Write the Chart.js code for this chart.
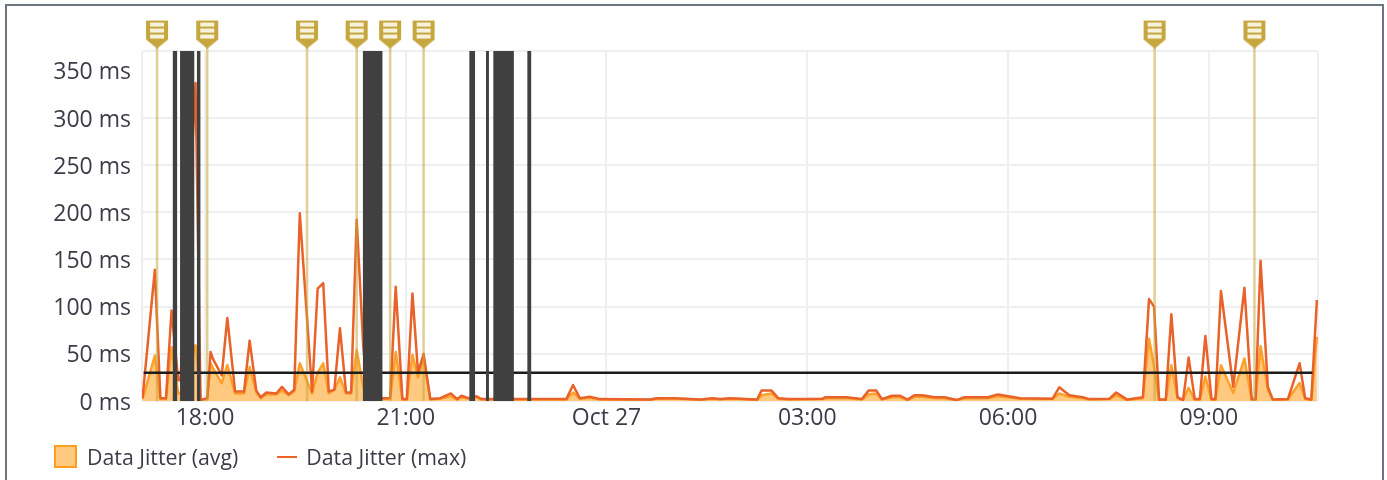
<!DOCTYPE html>
<html>
<head>
<meta charset="utf-8">
<script src="https://cdn.jsdelivr.net/npm/chart.js@4"></script>
<style>
  body { margin: 0; background: #fff; font-family: "Open Sans", sans-serif; overflow: hidden; }
  #frame { position: absolute; left: 5px; top: 4px; width: 1379px; height: 500px; border: 2px solid #6b7580; box-sizing: border-box; }
  #jitter { position: absolute; left: 0; top: 0; filter: blur(0.5px); }
  #legend { position: absolute; left: 54px; top: 445px; color: #3c3c48; line-height: 23px; white-space: nowrap; filter: blur(0.4px); }
  #legend span { display: inline-block; vertical-align: top; font-size: 21.3px; }
  #legend .box { width: 23px; height: 23px; box-sizing: border-box; background: #ffc97f; border: 2px solid #ff9d1e; margin-right: 10px; }
  #legend .dash { width: 20px; height: 2px; background: #f0602a; margin: 11px 9px 0 39px; }
</style>
</head>
<body>
<div id="frame"></div>
<canvas id="jitter" width="1387" height="480"></canvas>
<div id="legend"></div>
<script>
// everything on x is minutes after Oct 26 00:00
const xTickValues = [1080, 1260, 1440, 1620, 1800, 1980];
const xTickLabels = ["18:00", "21:00", "Oct 27", "03:00", "06:00", "09:00"];
const yTickValues = [0, 50, 100, 150, 200, 250, 300, 350];
const yTickLabels = ["0 ms", "50 ms", "100 ms", "150 ms", "200 ms", "250 ms", "300 ms", "350 ms"];
const xMin = 1023.5;
const xMax = 2078;
const yMax = 371;

const jitterTimes = [1024, 1035, 1040, 1045, 1050, 1056, 1058, 1071.5, 1076, 1082, 1085, 1087, 1095, 1100, 1107, 1115, 1120, 1126, 1130, 1135,
  1144, 1149, 1155, 1160, 1165, 1176, 1181, 1186, 1191, 1196, 1201, 1206.5, 1211, 1216, 1222, 1226, 1239, 1246, 1251, 1257,
  1261, 1266, 1271, 1276, 1282, 1291, 1300.5, 1306, 1310, 1316, 1323.5, 1328, 1404, 1410, 1416, 1425, 1434, 1479, 1485, 1500,
  1511, 1524, 1535, 1542, 1551, 1560, 1575, 1579, 1588, 1594, 1603, 1634, 1636, 1655, 1669, 1675, 1682, 1687, 1696, 1703,
  1710, 1716, 1723, 1734, 1743, 1754, 1761, 1782, 1791, 1811, 1840, 1846, 1855, 1867, 1873, 1891, 1897, 1907, 1921, 1926.5,
  1931, 1935.5, 1941.5, 1946.5, 1952, 1957, 1962, 1967.5, 1972, 1977, 1982.5, 1986, 1991, 2002, 2012, 2018.5, 2022, 2026.5, 2033, 2037.5,
  2051, 2061.5, 2066.5, 2072, 2077];
const jitterMax = [3, 139, 3, 3, 96, 22, 22, 337, 1, 3, 52, 45, 27, 88, 10, 10, 64, 11, 4, 9,
  8, 15, 7, 12, 199, 10, 119, 125, 10, 12, 77, 9, 9, 192, 56, 10, 3, 3, 121, 2,
  2, 114, 30, 50, 2, 3, 8, 2, 5.6, 3, 5, 2, 2, 17, 3, 4.5, 2, 1.5, 3, 3,
  2.5, 1.5, 3, 2, 3, 2.5, 1.5, 11, 11, 3, 2, 2.5, 4, 4, 2, 11, 11, 2, 5.6, 5.6,
  1.5, 6, 6, 4, 4, 1, 4, 4, 7, 3, 2.5, 14.5, 6, 4, 2, 2.5, 9, 1.5, 4, 108,
  100, 1.5, 1.5, 92, 4, 1, 46, 2, 2, 69, 2, 2, 116.5, 15, 120, 2, 2, 148.6, 15, 1.5,
  2, 40, 3, 1.5, 107];
const jitterAvg = [2, 48, 2, 2, 57, 8, 8, 59, 1, 2, 40, 35, 19, 38, 8, 8, 36, 9, 3, 7,
  7, 11, 6, 10, 40, 8, 30, 40, 8, 12, 25, 8, 8, 54, 14, 8, 2, 2, 52, 1.5,
  1.5, 49, 25, 45, 1.5, 2.5, 5, 1.5, 4, 2.5, 4, 1.5, 1.5, 9, 2.5, 3.5, 1.5, 1, 2.5, 2.5,
  2, 1, 2.5, 1.5, 2.5, 2, 1, 6, 8, 2.5, 1.5, 2, 3, 3, 1.5, 7, 8, 1.5, 4, 4,
  1, 4.5, 4.5, 3, 3, 1, 3, 3, 5, 2.5, 2, 8, 4.5, 3, 1.5, 2, 6, 1, 3, 66,
  36, 1, 1, 38, 3, 1, 14, 1, 1, 26, 1, 1, 38, 8.5, 45, 1, 1, 58, 12, 1,
  1.5, 19, 2, 1, 68];

const thresholdTimes = [1025, 2073];
const thresholdValues = [30, 30];

// outages, start and end minute of each dark band
const outageStarts = [1050.9, 1057.6, 1072.6, 1221.4, 1316.9, 1331.9, 1338.4, 1368.9];
const outageEnds = [1055.2, 1070.6, 1076.1, 1239.3, 1322.3, 1334.6, 1357, 1372.7];

const eventTimes = [1037, 1082, 1171.5, 1216, 1246, 1276, 1931.5, 2021];
const eventFlagLevel = 389;

function flagIcon() {
  const c = document.createElement("canvas");
  c.width = 24;
  c.height = 29;
  const g = c.getContext("2d");
  g.fillStyle = "#c6a63e";
  g.beginPath();
  g.moveTo(1, 1);
  g.lineTo(23, 1);
  g.lineTo(23, 20);
  g.lineTo(12, 29);
  g.lineTo(1, 20);
  g.closePath();
  g.fill();
  g.fillStyle = "#f7f2dc";
  [3, 9, 15].forEach(function (y) {
    g.fillRect(5, y, 14, 4);
  });
  return c;
}

const datasets = [];

outageStarts.forEach(function (start, i) {
  datasets.push({
    data: [{ x: start, y: yMax }, { x: outageEnds[i], y: yMax }],
    backgroundColor: "#404040",
    fill: "origin",
    borderWidth: 0,
    pointRadius: 0,
    order: 0
  });
});

datasets.push({
  data: thresholdTimes.map((t, i) => ({ x: t, y: thresholdValues[i] })),
  borderColor: "#1c1c1c",
  borderWidth: 2.5,
  pointRadius: 0,
  order: 1
});

const flag = flagIcon();
eventTimes.forEach(function (t) {
  datasets.push({
    data: [{ x: t, y: 0 }, { x: t, y: eventFlagLevel }],
    borderColor: "rgba(198,166,62,0.55)",
    borderWidth: 2.5,
    pointStyle: flag,
    pointRadius: [0, 20],
    clip: false,
    order: 2
  });
});

datasets.push({
  label: "Data Jitter (max)",
  data: jitterTimes.map((t, i) => ({ x: t, y: jitterMax[i] })),
  borderColor: "#e8622a",
  borderWidth: 2.5,
  borderJoinStyle: "round",
  pointRadius: 0,
  tension: 0,
  order: 3
});

datasets.push({
  label: "Data Jitter (avg)",
  data: jitterTimes.map((t, i) => ({ x: t, y: jitterAvg[i] })),
  borderColor: "#ffa028",
  backgroundColor: "#ffc97f",
  borderWidth: 2.5,
  borderJoinStyle: "round",
  fill: "origin",
  pointRadius: 0,
  tension: 0,
  order: 4
});

const tickFont = { family: "Open Sans", size: 23 };

// Open Sans digits sit a little high on the middle baseline
const nudgeYLabels = {
  id: "nudgeYLabels",
  beforeDraw: function (chart) {
    chart.scales.y.getLabelItems().forEach(function (item) {
      item.options.translation[1] += 2;
    });
  }
};

const chart = new Chart(document.getElementById("jitter"), {
  type: "line",
  data: { datasets: datasets },
  plugins: [nudgeYLabels],
  options: {
    responsive: false,
    animation: false,
    events: [],
    layout: { padding: { left: 0, top: 51, right: 69, bottom: 0 } },
    plugins: { legend: { display: false }, tooltip: { enabled: false } },
    scales: {
      x: {
        type: "linear",
        min: xMin,
        max: xMax,
        afterBuildTicks: function (axis) {
          axis.ticks = [xMin].concat(xTickValues, [xMax]).map(v => ({ value: v }));
        },
        afterFit: function (axis) { axis.height = 79; },
        grid: { color: "#efefef", lineWidth: 2, drawTicks: false },
        border: { display: false },
        ticks: {
          autoSkip: false,
          maxRotation: 0,
          padding: 4,
          color: "#3c3c48",
          font: tickFont,
          callback: function (v) {
            const i = xTickValues.indexOf(v);
            return i < 0 ? "" : xTickLabels[i];
          }
        }
      },
      y: {
        min: 0,
        max: yMax,
        afterBuildTicks: function (axis) {
          axis.ticks = yTickValues.concat([yMax]).map(v => ({ value: v }));
        },
        afterFit: function (axis) { axis.width = 142; },
        grid: {
          lineWidth: 2,
          drawTicks: false,
          // the 350 line does not show in the original
          color: c => (c.tick.value === 350 ? "rgba(0,0,0,0)" : "#efefef")
        },
        border: { display: false },
        ticks: {
          padding: 11,
          color: "#3c3c48",
          font: tickFont,
          callback: function (v) {
            const i = yTickValues.indexOf(v);
            return i < 0 ? "" : yTickLabels[i];
          }
        }
      }
    }
  }
});

// legend under the chart, avg first
const legend = document.getElementById("legend");
const avgLabel = chart.data.datasets[chart.data.datasets.length - 1].label;
const maxLabel = chart.data.datasets[chart.data.datasets.length - 2].label;
legend.innerHTML = '<span class="box"></span><span>' + avgLabel + '</span>' +
  '<span class="dash"></span><span>' + maxLabel + '</span>';
</script>
</body>
</html>
